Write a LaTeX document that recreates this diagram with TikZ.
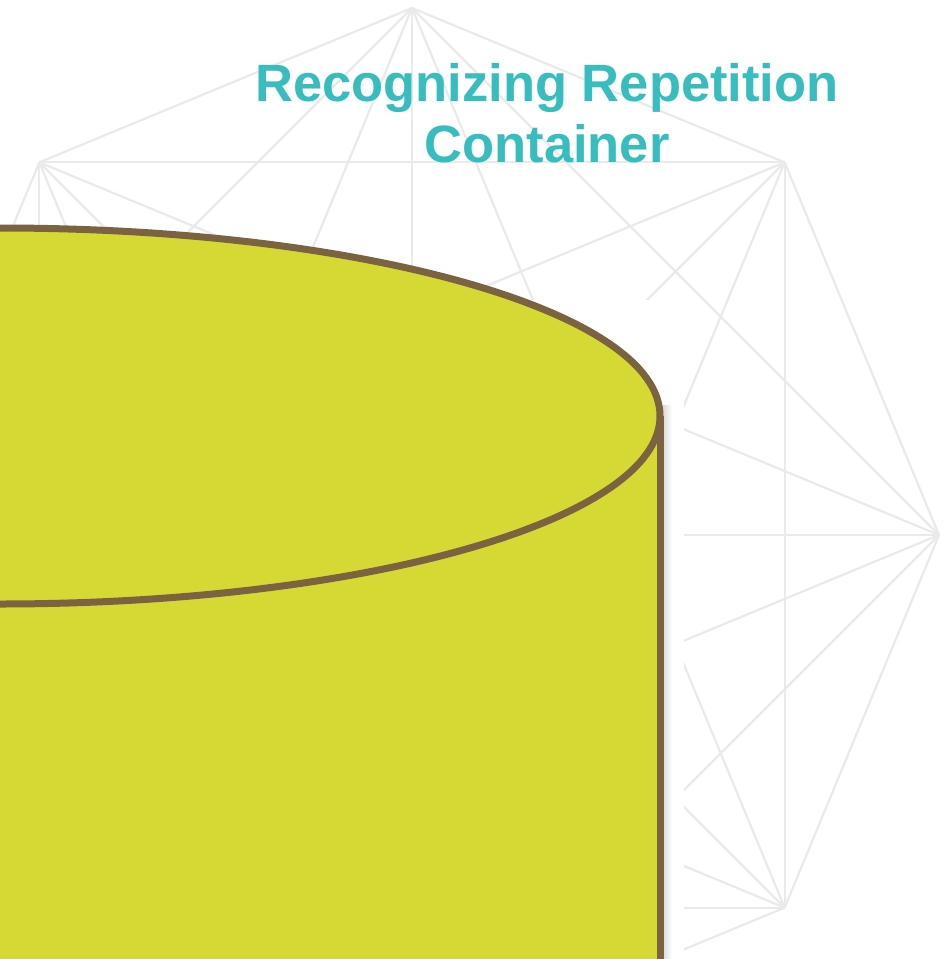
\documentclass[tikz,border=0pt]{standalone}
\usepackage{fontspec}
\setmainfont{Liberation Sans}
\definecolor{webgray}{RGB}{234,234,234}
\definecolor{canfill}{RGB}{214,217,51}
\definecolor{canrim}{RGB}{123,99,66}
\definecolor{titleteal}{RGB}{56,189,191}
\begin{document}
\begin{tikzpicture}[x=1pt,y=-1pt,
  web/.style={draw=webgray,line width=2.2pt},
  rim/.style={draw=canrim,line width=7pt},
  titletext/.style={text=titleteal,font=\fontsize{52.5}{61}\selectfont\bfseries,inner sep=0pt,anchor=base}]
\useasboundingbox (0,0) rectangle (952,959);
\clip (0,0) rectangle (952,959);
\fill[white] (0,0) rectangle (952,959);

% octagon web: every vertex joined to every other one
\foreach \k in {0,...,7}
  \coordinate (v\k) at ({412+527*cos(45*\k)},{535-527*sin(45*\k)});
\foreach \a in {0,...,6}{
  \pgfmathtruncatemacro\b{\a+1}
  \foreach \c in {\b,...,7}
    \draw[web] (v\a) -- (v\c);
}

% white panel behind the container
\fill[white] (-10,300) rectangle (684,970);

% container body
\coordinate (topc) at (0,416);
\coordinate (canright) at (660,416);
\coordinate (canbase) at (660,1000);
\fill[canfill] (-700,416) rectangle (canbase);
\fill[canfill] (topc) ellipse [x radius=660, y radius=188];
\shade[left color=black!14, right color=white] (663,405) rectangle (672,1000);
\draw[rim] (topc) ellipse [x radius=660, y radius=188];
\draw[rim] (canright) -- (canbase);

% title
\node[titletext] (title1) at (547,101) {Recognizing Repetition};
\node[titletext] (title2) at (547,162) {Container};
\end{tikzpicture}
\end{document}
